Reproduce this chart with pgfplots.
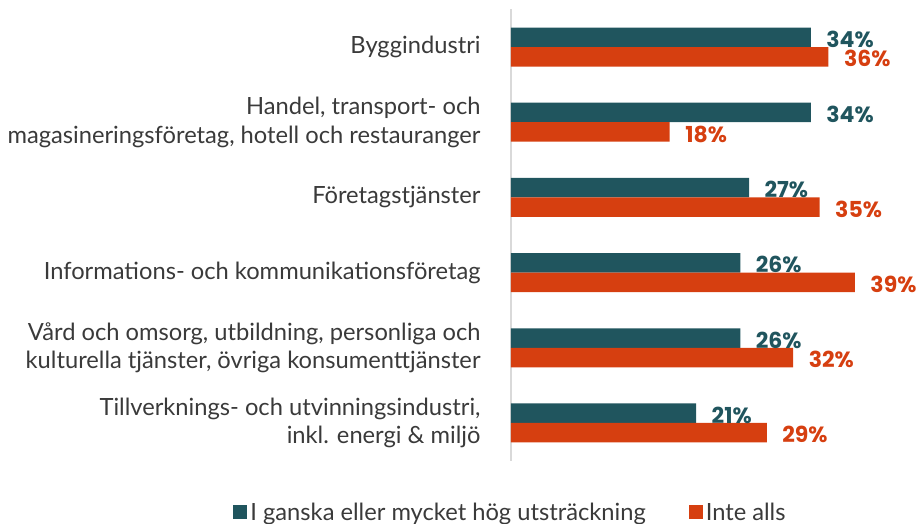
\documentclass[border=0pt]{standalone}
\usepackage{pgfplots}
\pgfplotsset{compat=1.18}
\usepackage{fontspec}
\setmainfont{Lato}
\newfontfamily\valfont{Poppins}
\definecolor{teal1}{HTML}{20555E}
\definecolor{orng}{HTML}{D63F10}
\definecolor{txt}{HTML}{3A3A3A}
\definecolor{axgray}{HTML}{D9D9D9}
\begin{document}
\begin{tikzpicture}
\useasboundingbox (0,0) rectangle (922pt,524pt);
\begin{axis}[
  at={(511pt,63.5pt)}, anchor=south west,
  scale only axis, width=405.7pt, height=451pt,
  xbar, bar width=19.5pt,
  xmin=0, xmax=46, ymin=-0.5, ymax=5.5, y dir=reverse,
  enlargelimits=false, clip=false,
  axis x line=none, axis y line*=left,
  y axis line style={draw=axgray, line width=1.5pt},
  xtick=\empty,
  ytick={0,1,2,3,4,5},
  ytick style={draw=none},
  yticklabels={{Byggindustri},{Handel, transport- och\\magasineringsföretag, hotell och restauranger},{Företagstjänster},{Informations- och kommunikationsföretag},{Vård och omsorg, utbildning, personliga och\\kulturella tjänster, övriga konsumenttjänster},{Tillverknings- och utvinningsindustri,\\inkl. energi \& miljö}},
  yticklabel style={font=\fontsize{23.7}{28.5}\selectfont, text=txt, align=right, inner sep=0pt, xshift=-26pt},
  point meta=x,
  nodes near coords={\pgfmathprintnumber[assume math mode=true]{\pgfplotspointmeta}\%},
  legend style={at={(axis description cs:0,-0.1164)}, anchor=center, draw=none, fill=none,
    legend columns=2, font=\fontsize{23.7}{26}\selectfont, text=txt,
    /tikz/every even column/.append style={column sep=40pt}, inner sep=0pt,
    nodes={inner sep=3pt}},
  legend cell align=left,
  legend image code/.code={\fill[#1] (0pt,-6pt) rectangle (14pt,8pt);},
]
\addplot[fill=teal1, draw=none, bar shift=9.75pt,
  every node near coord/.append style={anchor=west, xshift=12pt, yshift=-2pt, text=teal1, font=\valfont\bfseries\fontsize{22}{22}\selectfont}]
  coordinates {(34,0) (34,1) (27,2) (26,3) (26,4) (21,5)};
\addplot[fill=orng, draw=none, bar shift=-9.75pt,
  every node near coord/.append style={anchor=west, xshift=12pt, yshift=-2pt, text=orng, font=\valfont\bfseries\fontsize{22}{22}\selectfont}]
  coordinates {(36,0) (18,1) (35,2) (39,3) (32,4) (29,5)};
\legend{I ganska eller mycket hög utsträckning, Inte alls}
\end{axis}
\end{tikzpicture}
\end{document}
